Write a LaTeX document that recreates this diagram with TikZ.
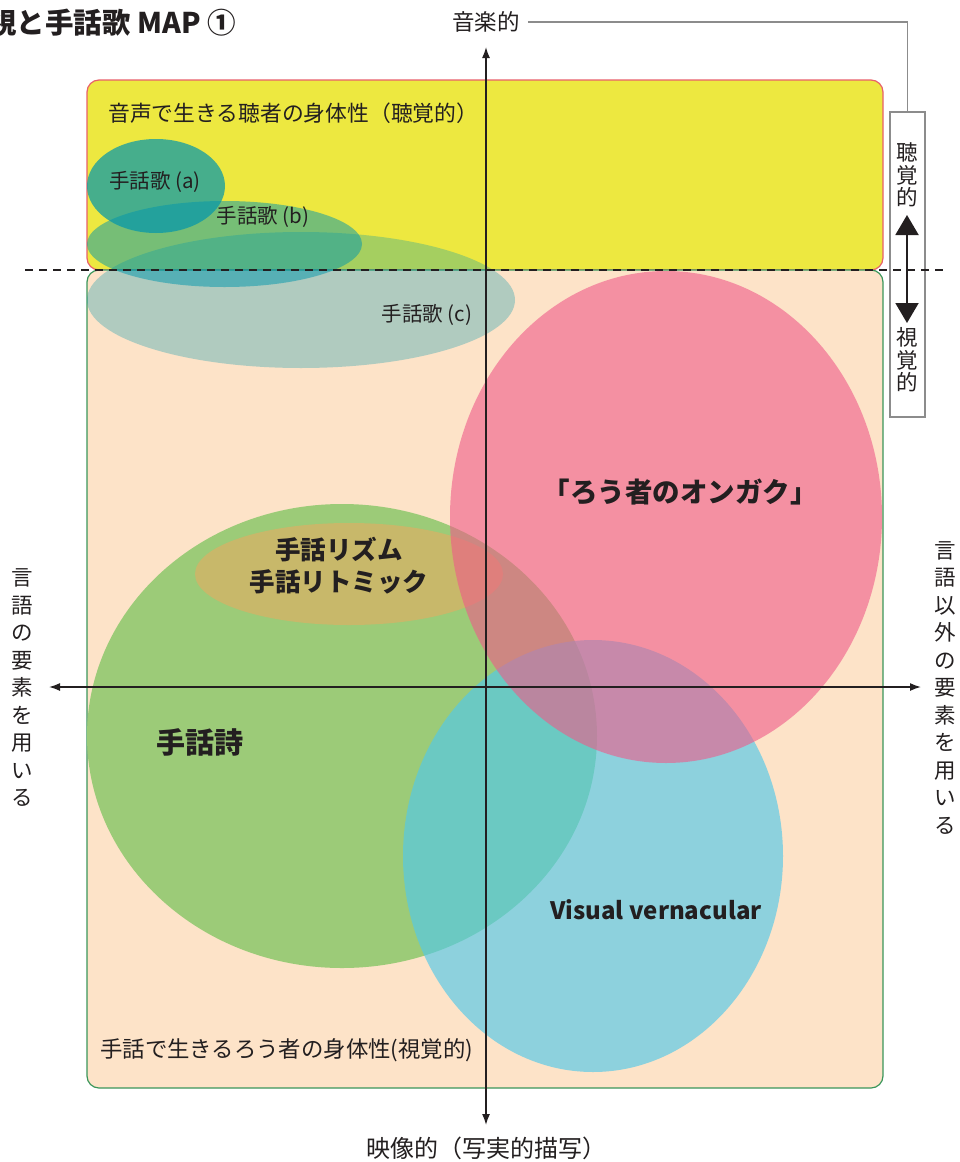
\documentclass[tikz,border=0pt]{standalone}
\usepackage{fontspec}
\setmainfont{Noto Sans CJK JP}
\usetikzlibrary{arrows.meta}
\definecolor{yel}{RGB}{237,232,64}
\definecolor{peach}{RGB}{253,227,200}
\definecolor{yelborder}{RGB}{232,96,106}
\definecolor{peachborder}{RGB}{58,150,90}
\definecolor{songteal}{RGB}{0,150,173}
\definecolor{poemgreen}{RGB}{156,203,120}
\definecolor{rhythmol}{RGB}{200,184,106}
\definecolor{ongakupink}{RGB}{239,90,137}
\definecolor{vvblue}{RGB}{83,201,233}
\definecolor{txt}{RGB}{35,31,32}
\definecolor{grayline}{RGB}{140,140,140}
\tikzset{
  every node/.style={text=txt, inner sep=0pt},
  areabox/.style={line width=1.2pt, rounded corners=12pt},
  axisline/.style={draw=txt, line width=1.5pt, {Latex[length=11pt,width=8pt]}-{Latex[length=11pt,width=8pt]}},
  vtext/.style={align=center, font=\fontsize{21.5}{27.5}\selectfont},
  songlbl/.style={font=\fontsize{20.5}{24}\selectfont},
  biglbl/.style={font=\fontsize{25.5}{32}\selectfont\bfseries, align=center},
  arealbl/.style={font=\fontsize{21}{24}\selectfont, anchor=west},
  axislbl/.style={font=\fontsize{22.5}{26}\selectfont},
  sidebox/.style={draw=grayline, line width=1.2pt, minimum width=35pt, minimum height=305pt},
  sidetext/.style={align=center, font=\fontsize{21.5}{22.5}\selectfont},
}
\begin{document}
\begin{tikzpicture}[x=1pt,y=-1pt]
\useasboundingbox (0,0) rectangle (959,1162);
% area boxes
\draw[areabox, draw=yelborder, fill=yel] (87,80) rectangle (883,270);
\draw[areabox, draw=peachborder, fill=peach] (87,270) rectangle (883,1088);
% song ellipses
\fill[songteal, opacity=.3] (301,300) ellipse [x radius=214, y radius=68];
\fill[songteal, opacity=.5] (224.5,244) ellipse [x radius=137.5, y radius=43];
\fill[songteal, opacity=.7] (156,186) ellipse [x radius=69, y radius=47];
% big ellipses
\fill[poemgreen] (342,736) ellipse [x radius=255, y radius=232];
\fill[rhythmol] (349,574) ellipse [x radius=154, y radius=51];
\fill[vvblue, opacity=.66] (593,856) ellipse [x radius=190, y radius=216];
\fill[ongakupink, opacity=.6] (666,517) ellipse [x radius=216, y radius=246];
% dashed divider
\coordinate (dashL) at (25,270);
\coordinate (dashR) at (948,270);
% side box
\node[sidebox] (vbox) at (907.5,264.5) {};
\node[sidetext] (hear) at (907,175) {聴\\覚\\的};
\node[sidetext] (see) at (907,360) {視\\覚\\的};
\coordinate (upT) at (907,215);
\coordinate (dnT) at (907,323);
\draw[line width=2pt, draw=txt, {Triangle[length=20pt,width=23pt]}-{Triangle[length=20pt,width=23pt]}] (upT) -- (dnT);
\draw[draw=txt, line width=1.8pt, dash pattern=on 8pt off 6pt] (dashL) -- (dashR);
% axes
\coordinate (ytop) at (486,47);
\coordinate (ybot) at (486,1125);
\coordinate (xl) at (49,687);
\coordinate (xr) at (921,687);
\draw[axisline] (ybot) -- (ytop);
\draw[axisline] (xl) -- (xr);
% axis labels
\node[axislbl] (music) at (486,22) {音楽的};
\node[axislbl, font=\fontsize{24}{28}\selectfont] (eizo) at (486,1148) {映像的（写実的描写）};
\node[vtext] (lang) at (22,688) {言\\語\\の\\要\\素\\を\\用\\い\\る};
\node[vtext] (nonlang) at (945,688) {言\\語\\以\\外\\の\\要\\素\\を\\用\\い\\る};
\draw[draw=grayline, line width=1.2pt] ([xshift=8pt]music.east) -| (vbox.north);
% title
\node[font=\fontsize{28.5}{32}\selectfont\bfseries, anchor=east] (title) at (236,23) {視と手話歌 MAP ①};
% area labels
\node[arealbl, font=\fontsize{21.8}{24}\selectfont] (hearlbl) at (108,113) {音声で生きる聴者の身体性（聴覚的）};
\node[arealbl, font=\fontsize{22.4}{24}\selectfont] (deaflbl) at (100,1050) {手話で生きるろう者の身体性(視覚的)};
% ellipse labels
\node[songlbl] (songa) at (155,182) {手話歌 (a)};
\node[songlbl] (songb) at (263,217) {手話歌 (b)};
\node[songlbl] (songc) at (427,315) {手話歌 (c)};
\node[biglbl, font=\fontsize{27.5}{32}\selectfont\bfseries] (ongaku) at (680,492) {「ろう者のオンガク」};
\node[biglbl] (rhythm) at (339,566) {手話リズム\\手話リトミック};
\node[font=\fontsize{29}{32}\selectfont\bfseries] (poem) at (200,742) {手話詩};
\node[font=\fontsize{24}{30}\selectfont\bfseries] (vv) at (656,910) {Visual vernacular};
\end{tikzpicture}
\end{document}
